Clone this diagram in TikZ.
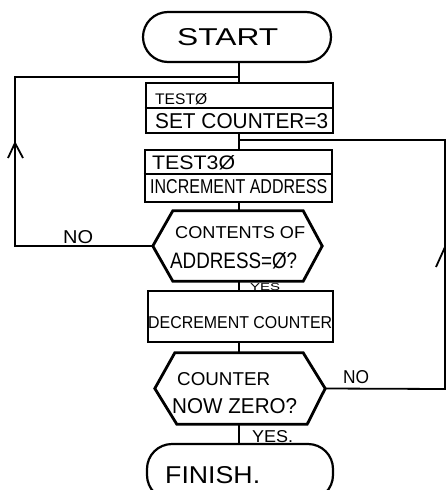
\documentclass[tikz,border=0pt]{standalone}
\usepackage{fontspec}
\setmainfont{Liberation Sans}
\usepackage{graphicx}
\usetikzlibrary{calc}
\newcommand{\fitT}[3]{\resizebox{#1pt}{#2pt}{\fontsize{20}{20}\selectfont #3}}
\tikzset{
  boxshape/.style={draw, line width=2.8pt, inner sep=0pt},
  termshape/.style={draw, line width=2.2pt, rounded corners=25pt, inner sep=0pt},
  hexframe/.style={inner sep=0pt},
  hexline/.style={line width=2.8pt, line join=miter},
  conn/.style={line width=1.8pt, line join=miter},
  divline/.style={line width=2pt},
  txt/.style={inner sep=0pt, anchor=base west},
}
\begin{document}
\begin{tikzpicture}[x=1pt,y=-1pt]
\useasboundingbox (0,0) rectangle (446,490);

% terminals and boxes
\node[termshape, minimum width=188pt, minimum height=50pt] (start) at (237,37) {};
\node[boxshape, minimum width=187pt, minimum height=50pt] (b1) at (239.5,108) {};
\node[boxshape, minimum width=187pt, minimum height=52pt] (b2) at (238.5,176) {};
\node[hexframe, minimum width=169pt, minimum height=70pt] (h1) at (237.5,246) {};
\node[boxshape, minimum width=185pt, minimum height=51pt] (b3) at (240.5,316.5) {};
\node[hexframe, minimum width=170pt, minimum height=71pt] (h2) at (240,388.5) {};
\node[termshape, minimum width=186pt, minimum height=56pt] (finish) at (240,472) {};

% dividers
\draw[divline] (b1.west) -- (b1.east);
\draw[divline] ([yshift=2pt]b2.west) -- ([yshift=2pt]b2.east);

% hexagons
\draw[hexline] (h1.west) -- ([xshift=20pt]h1.north west) -- ([xshift=-19pt]h1.north east) -- (h1.east) -- ([xshift=-19pt]h1.south east) -- ([xshift=20pt]h1.south west) -- cycle;
\draw[hexline] (h2.west) -- ([xshift=20pt]h2.north west) -- ([xshift=-22pt]h2.north east) -- (h2.east) -- ([xshift=-18pt]h2.south east) -- ([xshift=22pt]h2.south west) -- cycle;

% coordinates
\coordinate (j1) at (239,77);
\coordinate (lt) at (15,77);
\coordinate (lb) at (15,246);
\coordinate (a1) at (15,143);
\coordinate (j2) at (239,140);
\coordinate (rt) at (445,140);
\coordinate (rb) at (445,389);
\coordinate (a2) at (445,247);

% connectors
\draw[conn] (start.south -| j1) -- (j1 |- b1.north);
\draw[conn] (h1.west) -- (lb) -- (lt) -- (j1);
\draw[conn] ([xshift=-7pt,yshift=-15pt]a1) -- (a1) -- ([xshift=8pt,yshift=-15pt]a1);
\draw[conn] (b1.south -| j2) -- (j2 |- b2.north);
\draw[conn] (h2.east) -- (rb) -- (rt) -- (j2);
\draw[conn] ([xshift=-9pt,yshift=-20pt]a2) -- (a2) -- ([xshift=9pt,yshift=-20pt]a2);
\draw[conn] (b2.south -| j2) -- (j2 |- h1.north);
\draw[conn] (h1.south -| j2) -- (j2 |- b3.north);
\draw[conn] (b3.south -| j2) -- (j2 |- h2.north);
\draw[conn] (h2.south -| j2) -- (j2 |- finish.north);

% texts
\node[txt] (tstart) at (177,45) {\fitT{101}{17}{START}};
\node[txt] (t1a) at (155,104) {\fitT{52}{11}{TESTØ}};
\node[txt] (t1b) at (155,128) {\fitT{173}{15}{SET COUNTER=3}};
\node[txt] (t2a) at (152,169) {\fitT{83}{14}{TEST3Ø}};
\node[txt] (t2b) at (150,193) {\fitT{177}{14}{INCREMENT ADDRESS}};
\node[txt] (th1a) at (175,238) {\fitT{130}{12}{CONTENTS OF}};
\node[txt] (th1b) at (170,268) {\fitT{127}{16}{ADDRESS=Ø?}};
\node[txt] (tyes1) at (250,290) {\fitT{30}{7}{YES}};
\node[txt] (t3) at (148,328) {\fitT{184}{12}{DECREMENT COUNTER}};
\node[txt] (th2a) at (177,385) {\fitT{93}{13}{COUNTER}};
\node[txt] (th2b) at (172,413) {\fitT{125}{15}{NOW ZERO?}};
\node[txt] (tyes2) at (252,442) {\fitT{41}{12}{YES.}};
\node[txt] (tfin) at (165,483) {\fitT{95}{17}{FINISH.}};
\node[txt] (tno1) at (63,243) {\fitT{30}{13}{NO}};
\node[txt] (tno2) at (343,383) {\fitT{26}{13}{NO}};
\end{tikzpicture}
\end{document}
